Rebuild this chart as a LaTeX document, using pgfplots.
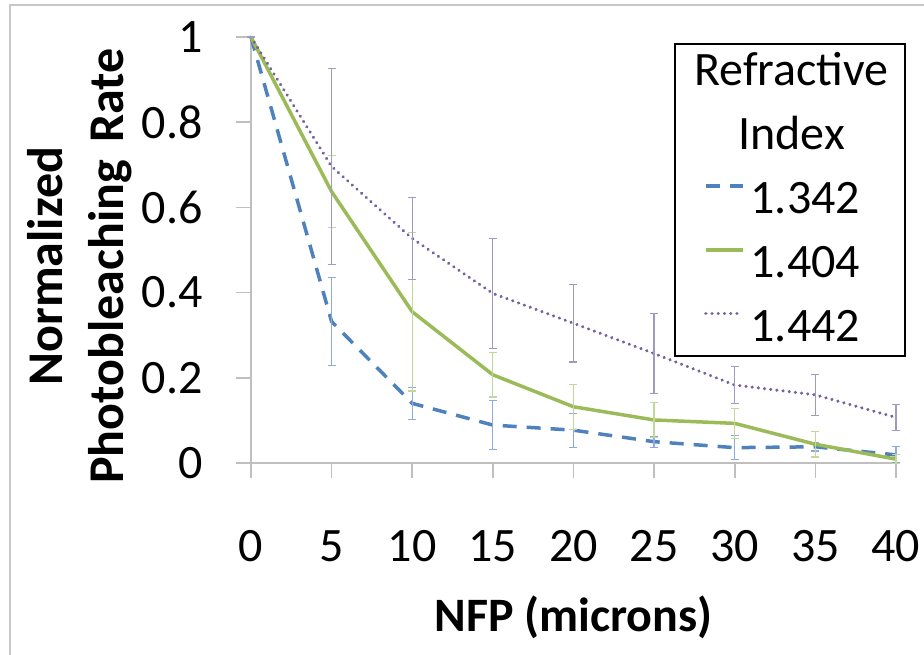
\documentclass[border=0pt]{standalone}
\usepackage{fontspec}
\setmainfont{Carlito}
\usepackage{pgfplots}
\pgfplotsset{compat=1.18}
\definecolor{sblue}{HTML}{4F81BD}
\definecolor{sgreen}{HTML}{9BBB59}
\definecolor{spurple}{HTML}{7560A0}
\definecolor{eblue}{HTML}{8EAADB}
\definecolor{egreen}{HTML}{C4D79B}
\definecolor{epurple}{HTML}{A09AC0}
\definecolor{axgray}{HTML}{BFBFBF}
\definecolor{framegray}{HTML}{C8C8C8}

\pgfplotstableread{
x y e
0 1 0
5 0.332 0.104
10 0.140 0.038
15 0.089 0.058
20 0.077 0.040
25 0.050 0.013
30 0.036 0.028
35 0.038 0.010
40 0.019 0.019
}\tblA
\pgfplotstableread{
x y e
0 1 0
5 0.637 0.085
10 0.355 0.186
15 0.207 0.052
20 0.132 0.053
25 0.101 0.041
30 0.093 0.035
35 0.044 0.030
40 0.009 0.010
}\tblB
\pgfplotstableread{
x y e
0 1 0
5 0.696 0.230
10 0.527 0.097
15 0.398 0.129
20 0.328 0.091
25 0.257 0.094
30 0.183 0.043
35 0.160 0.048
40 0.107 0.030
}\tblC

\begin{document}
\begin{tikzpicture}
\begin{axis}[
 scale only axis, width=322.5pt, height=213pt,
 xmin=0, xmax=40, ymin=0, ymax=1,
 axis lines=left, axis line style={-, axgray, line width=0.8pt},
 clip=false,
 xtick={0,5,...,40}, ytick={0,0.2,0.4,0.6,0.8,1},
 tick align=outside, major tick length=7.5pt,
 tick style={axgray, line width=0.8pt},
 tick label style={font=\fontsize{24}{29}\selectfont, inner sep=0pt},
 /pgf/number format/assume math mode=true,
 yticklabel style={anchor=east, xshift=-16.5pt},
 xticklabel style={anchor=base, yshift=-42pt},
 xlabel={NFP (microns)},
 xlabel style={font=\bfseries\fontsize{24}{29}\selectfont, at={(rel axis cs:0.5,-0.3967)}, anchor=base, inner sep=0pt},
 ylabel={Normalized\\Photobleaching\hspace{3pt} Rate},
 ylabel style={font=\bfseries\fontsize{25}{30.5}\selectfont, align=center, at={(rel axis cs:-0.266,0.462)}, anchor=center},
 legend style={at={(rel axis cs:0.656,0.986)}, anchor=north west, draw=black, line width=1pt, fill=white,
   font=\fontsize{24}{29}\selectfont, inner xsep=5.5pt, inner ysep=3pt, row sep=9.4pt, column sep=3pt,
   nodes={inner sep=0pt, text height=18pt, text depth=4.5pt}},
 legend cell align=left,
 legend image code/.code={\path (0pt,0pt); \draw[#1] (9pt,7pt) -- (27.5pt,7pt);},
]
\addlegendimage{empty legend}
\addlegendentry{\hspace*{-30.5pt}\makebox[102pt][c]{Refractive}}
\addlegendimage{empty legend}
\addlegendentry{\hspace*{-30.5pt}\makebox[102pt][c]{Index}}

\addplot[sblue, line width=1.75pt, dash pattern=on 7pt off 5pt,
  error bars/.cd, y dir=both, y explicit, error mark=-,
  error bar style={eblue, line width=0.6pt, solid},
  error mark options={eblue, rotate=90, mark size=2pt, line width=0.6pt, solid}]
  table[x=x, y=y, y error=e] {\tblA};
\addlegendentry{\makebox[71.5pt][l]{1.342}}
\addplot[sgreen, line width=1.75pt,
  error bars/.cd, y dir=both, y explicit, error mark=-,
  error bar style={egreen, line width=0.6pt, solid},
  error mark options={egreen, rotate=90, mark size=2pt, line width=0.6pt, solid}]
  table[x=x, y=y, y error=e] {\tblB};
\addlegendentry{1.404}
\addplot[spurple, line width=1.7pt, line cap=round, dash pattern=on 0.01pt off 3.1pt,
  error bars/.cd, y dir=both, y explicit, error mark=-,
  error bar style={epurple, line width=0.6pt, solid},
  error mark options={epurple, rotate=90, mark size=2pt, line width=0.6pt, solid}]
  table[x=x, y=y, y error=e] {\tblC};
\addlegendentry{1.442}

\draw[framegray, line width=1pt] (axis cs:-14.95,-0.4507) -- (axis cs:-14.95,1.0751) -- (axis cs:41.74,1.0751);
\coordinate (BL) at (axis cs:-15.566,-0.4507);
\coordinate (TR) at (axis cs:41.74,1.0869);
\end{axis}
\pgfresetboundingbox
\path (BL) rectangle (TR);
\end{tikzpicture}
\end{document}
